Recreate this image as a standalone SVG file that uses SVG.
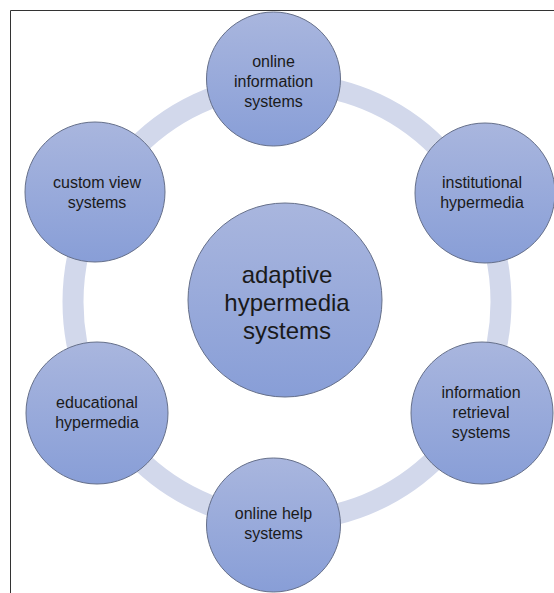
<svg xmlns="http://www.w3.org/2000/svg" width="554" height="593" viewBox="0 0 554 593">
  <defs>
    <linearGradient id="g" x1="0" y1="0" x2="0" y2="1">
      <stop offset="0" stop-color="#a9b6de"/>
      <stop offset="1" stop-color="#889ed7"/>
    </linearGradient>
    <style>
      .node { fill: url(#g); stroke: #66708a; stroke-width: 1; }
      .lbl { font-family: "Liberation Sans", Arial, sans-serif; font-size: 16px; fill: #1a1a1a; text-anchor: middle; }
      .big { font-size: 24px; }
      .ring { fill: none; stroke: #d2d8eb; stroke-width: 21; }
      .frame { stroke: #333333; stroke-width: 1; fill: none; }
    </style>
  </defs>
  <rect width="554" height="593" fill="#ffffff"/>
  <path class="frame" d="M10.5 593 V10.5 H554"/>
  <g id="connectors">
    <ellipse class="ring" cx="287" cy="302" rx="214" ry="218"/>
  </g>
  <g id="center">
    <circle class="node" cx="285" cy="300" r="97"/>
    <text class="lbl big" x="287" y="283">adaptive</text>
    <text class="lbl big" x="287" y="311">hypermedia</text>
    <text class="lbl big" x="287" y="339">systems</text>
  </g>
  <g id="online-information">
    <circle class="node" cx="273.5" cy="79" r="67"/>
    <text class="lbl" x="273.5" y="67">online</text>
    <text class="lbl" x="273.5" y="87">information</text>
    <text class="lbl" x="273.5" y="107">systems</text>
  </g>
  <g id="institutional">
    <circle class="node" cx="485" cy="193" r="70"/>
    <text class="lbl" x="482" y="188">institutional</text>
    <text class="lbl" x="482" y="208">hypermedia</text>
  </g>
  <g id="information-retrieval">
    <circle class="node" cx="482" cy="413" r="71"/>
    <text class="lbl" x="481" y="398">information</text>
    <text class="lbl" x="481" y="418">retrieval</text>
    <text class="lbl" x="481" y="438">systems</text>
  </g>
  <g id="online-help">
    <circle class="node" cx="273.5" cy="525" r="67"/>
    <text class="lbl" x="273.5" y="519">online help</text>
    <text class="lbl" x="273.5" y="539">systems</text>
  </g>
  <g id="educational">
    <circle class="node" cx="97" cy="413" r="71"/>
    <text class="lbl" x="97" y="408">educational</text>
    <text class="lbl" x="97" y="428">hypermedia</text>
  </g>
  <g id="custom-view">
    <circle class="node" cx="95" cy="192" r="70"/>
    <text class="lbl" x="97" y="188">custom view</text>
    <text class="lbl" x="97" y="208">systems</text>
  </g>
</svg>
